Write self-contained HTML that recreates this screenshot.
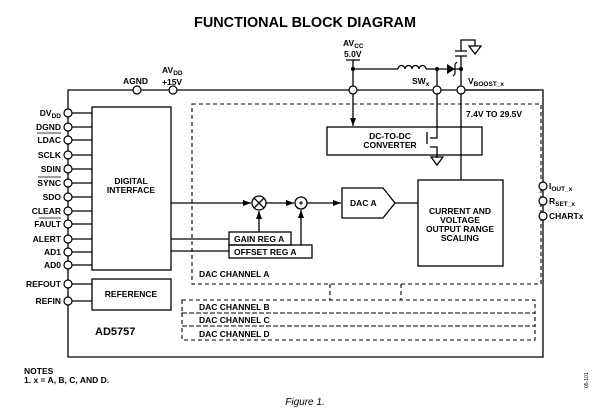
<!DOCTYPE html>
<html><head><style>
html,body{margin:0;padding:0;background:#fff;}
svg{display:block;font-family:"Liberation Sans",Arial,sans-serif;font-weight:bold;}
</style></head><body>
<svg width="610" height="416" viewBox="0 0 610 416" xmlns="http://www.w3.org/2000/svg">
<defs><marker id="a" markerWidth="8" markerHeight="6" refX="8" refY="3" orient="auto" markerUnits="userSpaceOnUse"><path d="M0,0 L8,3 L0,6z" fill="#000"/></marker></defs>
<text x="305" y="27" font-size="14.5" text-anchor="middle" textLength="222" lengthAdjust="spacingAndGlyphs">FUNCTIONAL BLOCK DIAGRAM</text>
<g stroke="#000" stroke-width="1.3" fill="none">
<path d="M68,90 H543 V357 H68 Z"/>
<rect x="92" y="107" width="79" height="163"/>
<rect x="92" y="279" width="79" height="31"/>
<path d="M72,113H92 M72,127H92 M72,140H92 M72,155H92 M72,169H92 M72,183H92 M72,197H92 M72,211H92 M72,224H92 M72,239H92 M72,252H92 M72,265H92 M72,284H92 M72,301H92"/>
<rect x="327" y="127" width="155" height="28"/>
<rect x="418" y="180" width="85" height="86"/>
<path d="M342,188 H383 L395,203 L383,218 H342 Z"/>
<rect x="229" y="232" width="62" height="13"/>
<rect x="229" y="245" width="83" height="13"/>
<path d="M171,203 H251" marker-end="url(#a)"/>
<path d="M266,203 H294" marker-end="url(#a)"/>
<path d="M307,203 H341" marker-end="url(#a)"/>
<path d="M395,203 H418"/>
<path d="M171,239 H229 M171,251 H229"/>
<path d="M259,232 V211" marker-end="url(#a)"/>
<path d="M301,245 V210" marker-end="url(#a)"/>
<circle cx="259" cy="203" r="7" fill="#fff"/>
<path d="M254,198 L264,208 M264,198 L254,208"/>
<circle cx="301" cy="203" r="6" fill="#fff"/>
<path d="M299,203 H303 M301,201 V205" stroke-width="1"/>
<path d="M353,60 V86 M346,60 H360"/>
<path d="M353,69 H398 M426,69 H447 M455,69 H461"/>
<path d="M398,69 a3.5,3.5 0 0 1 7,0 a3.5,3.5 0 0 1 7,0 a3.5,3.5 0 0 1 7,0 a3.5,3.5 0 0 1 7,0"/>
<path d="M353,94 V126" marker-end="url(#a)"/>
<path d="M437,69 V86 M437,94 V138 H430 M427,132 V144 M430,147 H437 V158"/>
<path d="M461,56 V86 M461,94 V180 M455,56 H467 M455,51 H467 M461,51 V40 H475 V46"/>
<path d="M469,46 H481 L475,54 Z"/>
<path d="M431,157 H443 L437,165 Z"/>
<path d="M465,90 H539"/>
</g>
<polygon points="447,64 455,69 447,74" fill="#000"/>
<path d="M455,64 V74 M455,64 l2,-2 M455,74 l-2,2" stroke="#000" stroke-width="1.2" fill="none"/>
<circle cx="353" cy="69" r="2" fill="#000"/><circle cx="437" cy="69" r="2" fill="#000"/><circle cx="461" cy="69" r="2" fill="#000"/>
<g stroke="#000" stroke-width="1.1" fill="none" stroke-dasharray="4,3">
<path d="M192,104 H541 V284 H192 Z"/>
<rect x="182" y="300" width="353" height="13"/>
<rect x="182" y="313" width="353" height="13"/>
<rect x="182" y="326" width="353" height="14"/>
<path d="M330,284 V300 M401,284 V300"/>
</g>
<g stroke="#000" stroke-width="1.2" fill="#fff">
<circle cx="68" cy="113" r="4"/><circle cx="68" cy="127" r="4"/><circle cx="68" cy="140" r="4"/><circle cx="68" cy="155" r="4"/><circle cx="68" cy="169" r="4"/><circle cx="68" cy="183" r="4"/><circle cx="68" cy="197" r="4"/><circle cx="68" cy="211" r="4"/><circle cx="68" cy="224" r="4"/><circle cx="68" cy="239" r="4"/><circle cx="68" cy="252" r="4"/><circle cx="68" cy="265" r="4"/><circle cx="68" cy="284" r="4"/><circle cx="68" cy="301" r="4"/>
<circle cx="137" cy="90" r="4"/><circle cx="173" cy="90" r="4"/><circle cx="353" cy="90" r="4"/><circle cx="437" cy="90" r="4"/><circle cx="461" cy="90" r="4"/>
<circle cx="543" cy="186" r="4"/><circle cx="543" cy="201" r="4"/><circle cx="543" cy="216" r="4"/>
</g>
<g font-size="8.5" text-anchor="end">
<text x="61" y="116">DV<tspan font-size="6.5" dy="2">DD</tspan></text>
<text x="61" y="130">DGND</text>
<text x="61" y="143">LDAC</text>
<text x="61" y="158">SCLK</text>
<text x="61" y="172">SDIN</text>
<text x="61" y="186">SYNC</text>
<text x="61" y="200">SDO</text>
<text x="61" y="214">CLEAR</text>
<text x="61" y="227">FAULT</text>
<text x="61" y="242">ALERT</text>
<text x="61" y="255">AD1</text>
<text x="61" y="268">AD0</text>
<text x="61" y="287">REFOUT</text>
<text x="61" y="304">REFIN</text>
</g>
<g stroke="#000" stroke-width="0.8"><path d="M37,133H61 M38,177H61 M39,218H61"/></g>
<g font-size="8.5">
<text x="123" y="84">AGND</text>
<text x="162" y="73">AV<tspan font-size="6.5" dy="2">DD</tspan></text>
<text x="162" y="85">+15V</text>
<text x="343" y="46">AV<tspan font-size="6.5" dy="2">CC</tspan></text>
<text x="344" y="57">5.0V</text>
<text x="412" y="84">SW<tspan font-size="6.5" dy="2">x</tspan></text>
<text x="468" y="84">V<tspan font-size="6.5" dy="2">BOOST_x</tspan></text>
<text x="466" y="117">7.4V TO 29.5V</text>
<text x="549" y="189">I<tspan font-size="6.5" dy="2">OUT_x</tspan></text>
<text x="549" y="204">R<tspan font-size="6.5" dy="2">SET_x</tspan></text>
<text x="549" y="219">CHARTx</text>
<text x="131" y="184" text-anchor="middle">DIGITAL</text>
<text x="131" y="193" text-anchor="middle">INTERFACE</text>
<text x="131" y="297" text-anchor="middle">REFERENCE</text>
<text x="390" y="139" text-anchor="middle">DC-TO-DC</text>
<text x="390" y="148" text-anchor="middle">CONVERTER</text>
<text x="350" y="206">DAC A</text>
<text x="460" y="214" text-anchor="middle">CURRENT AND</text>
<text x="460" y="223" text-anchor="middle">VOLTAGE</text>
<text x="460" y="232" text-anchor="middle">OUTPUT RANGE</text>
<text x="460" y="241" text-anchor="middle">SCALING</text>
<text x="234" y="242">GAIN REG A</text>
<text x="234" y="255">OFFSET REG A</text>
<text x="199" y="277">DAC CHANNEL A</text>
<text x="199" y="310">DAC CHANNEL B</text>
<text x="199" y="323">DAC CHANNEL C</text>
<text x="199" y="337">DAC CHANNEL D</text>
<text x="24" y="374">NOTES</text>
<text x="24" y="383">1. x = A, B, C, AND D.</text>
</g>
<text x="95" y="335" font-size="11">AD5757</text>
<text x="305" y="405" font-size="10" font-weight="normal" font-style="italic" text-anchor="middle">Figure 1.</text>
<text x="0" y="0" font-size="5" font-weight="normal" transform="translate(588,388) rotate(-90)">05-101</text>
</svg>
</body></html>
